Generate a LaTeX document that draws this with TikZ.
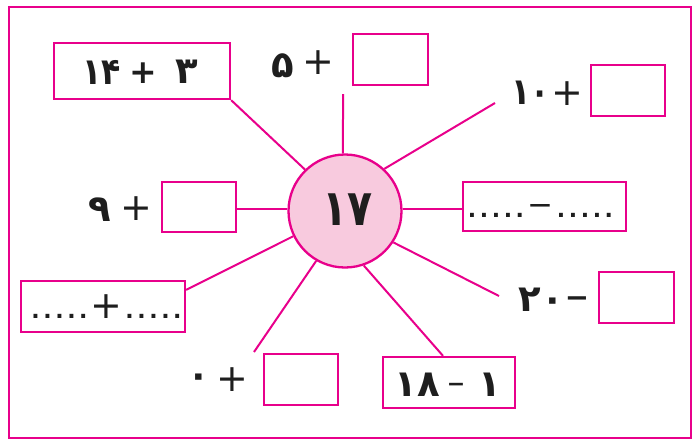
\documentclass[tikz,border=0pt]{standalone}
\usepackage{fontspec}
\usepackage{graphicx}
\newfontfamily\fa{DejaVu Sans}
\definecolor{mag}{RGB}{232,0,139}
\definecolor{pinkfill}{RGB}{248,202,222}
\definecolor{ink}{RGB}{30,30,30}
\newcommand\dotrow{.\hspace{3.6pt}.\hspace{3.6pt}.\hspace{3.6pt}.\hspace{3.6pt}.}
\begin{document}
\begin{tikzpicture}[x=1pt,y=-1pt,
  box/.style={draw=mag, line width=2.3pt, fill=white, inner sep=0pt},
  lnk/.style={draw=mag, line width=2pt},
  dig/.style={font=\fa\bfseries\fontsize{37}{37}\selectfont, text=ink, inner sep=0pt},
  plusop/.style={font=\fa\fontsize{38}{38}\selectfont, text=ink, inner sep=0pt},
  bplusop/.style={font=\fa\bfseries\fontsize{33}{33}\selectfont, text=ink, inner sep=0pt},
  dashop/.style={font=\fa\bfseries\fontsize{29}{29}\selectfont, text=ink, inner sep=0pt},
  dots/.style={font=\fa\bfseries\fontsize{22}{22}\selectfont, text=ink, inner sep=0pt}]
\useasboundingbox (0,0) rectangle (696,440);
\draw[draw=mag, line width=2.5pt] (9,7) rectangle (691,438);

% centre
\node[circle, draw=mag, line width=2.3pt, fill=pinkfill, minimum size=113pt, inner sep=0pt] (c) at (345,211) {};
\node[dig, font=\fa\bfseries\fontsize{50}{50}\selectfont] (c17) at (348,209.5) {\scalebox{0.82}[1]{۱۷}};

% boxes
\node[box, minimum width=176pt, minimum height=56pt] (b14) at (142,71) {};
\node[box, minimum width=75pt, minimum height=51pt] (btop) at (390.5,59.5) {};
\node[box, minimum width=74pt, minimum height=51pt] (b10) at (628,90.5) {};
\node[box, minimum width=74pt, minimum height=50pt] (b9) at (199,207) {};
\node[box, minimum width=163pt, minimum height=49pt] (bmin) at (544.5,206.5) {};
\node[box, minimum width=164pt, minimum height=51pt] (bplus) at (103,306.5) {};
\node[box, minimum width=74pt, minimum height=51pt] (b0) at (301,379.5) {};
\node[box, minimum width=75pt, minimum height=51pt] (b20) at (636.5,297.5) {};
\node[box, minimum width=132pt, minimum height=51pt] (b18) at (449,382.5) {};

% texts in boxes
\node[dig] (t14a) at (101.5,72.5) {\scalebox{0.85}[1]{۱۴}};
\node[bplusop] (t14p) at (143,73) {+};
\node[dig] (t14b) at (187,72) {۳};
\node[dig] (t18a) at (417.5,385) {۱۸};
\node[dashop, font=\fa\bfseries\fontsize{22}{22}\selectfont] (t18m) at (456,387) {−};
\node[dig] (t18b) at (490,385) {۱};
\node[dots, anchor=base] (dm1) at (496,217) {\dotrow};
\node[plusop, font=\fa\fontsize{31}{31}\selectfont] (dmm) at (540,210) {−};
\node[dots, anchor=base] (dm2) at (585,217) {\dotrow};
\node[dots, anchor=base] (dp1) at (59.5,318) {\dotrow};
\node[plusop] (dpp) at (106,306.5) {+};
\node[dots, anchor=base] (dp2) at (153.5,318) {\dotrow};

% free labels
\node[dig] (n5) at (283,66) {۵};
\node[plusop] (p5) at (318.5,63) {+};
\node[dig] (n10) at (531,93) {\scalebox{0.85}[1]{۱۰}};
\node[plusop] (p10) at (567,93.5) {+};
\node[dig] (n9) at (99.5,210) {۹};
\node[plusop] (p9) at (136.5,209) {+};
\node[dig] (n20) at (541.5,299.5) {۲۰};
\node[dashop] (m20) at (577,302.5) {−};
\node[dig] (n0) at (198.5,380.5) {۰};
\node[plusop] (p0) at (232,379.5) {+};

% free ends
\coordinate (e5) at (343,94);
\coordinate (e10) at (495,103);
\coordinate (e20) at (499,296);
\coordinate (e0) at (254,352);

% connectors
\draw[lnk] (b14.south east) -- (c.134);
\draw[lnk] (e5) -- (c.92);
\draw[lnk] (e10) -- (c.47);
\draw[lnk] (b9.east |- 0,209) -- (c.west |- 0,209);
\draw[lnk] (bmin.west |- 0,209) -- (c.east |- 0,209);
\draw[lnk] ([yshift=-10pt]bplus.north east) -- (c.206);
\draw[lnk] (e0) -- (c.240);
\draw[lnk] ([xshift=-6pt]b18.north) -- (c.289);
\draw[lnk] (e20) -- (c.327);
\end{tikzpicture}
\end{document}
